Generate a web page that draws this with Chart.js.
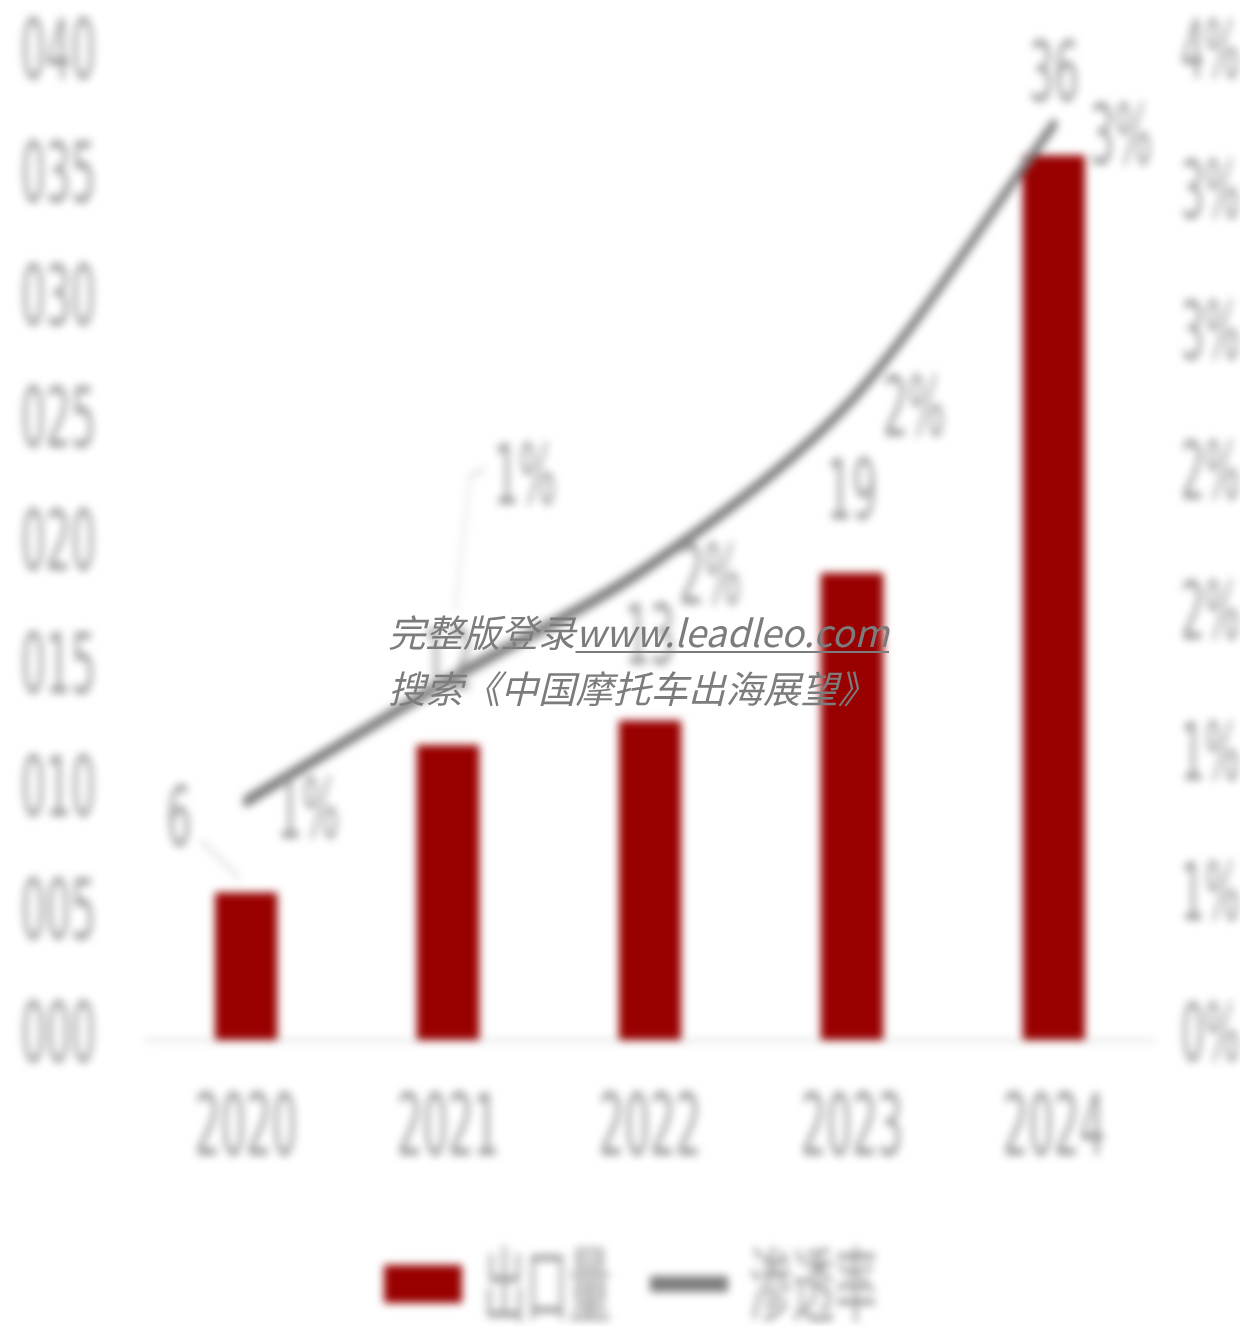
<!DOCTYPE html>
<html lang="zh-CN">
<head>
<meta charset="utf-8">
<title>出口量与渗透率</title>
<script src="https://cdn.jsdelivr.net/npm/chart.js@4.4.1/dist/chart.umd.min.js"></script>
<style>
  html, body { margin: 0; padding: 0; background: #fff; }
  body { width: 1240px; height: 1326px; overflow: hidden; position: relative; }
  #wrap { position: absolute; left: 0; top: 0; width: 1240px; height: 1326px; overflow: hidden; filter: blur(4px); }
  #chart { display: block; transform: scaleX(0.52); transform-origin: 0 0; }
  .mark {
    position: absolute; left: 388px; top: 603px;
    font-family: "Noto Sans CJK SC", sans-serif; font-style: italic;
    font-size: 37.5px; line-height: 56px; color: #7c7c7c; white-space: nowrap;
  }
  .mark u { text-decoration-thickness: 2px; text-underline-offset: 4px; }
</style>
</head>
<body>
<div id="wrap"><canvas id="chart" width="2385" height="1326" style="width:2385px;height:1326px"></canvas></div>
<div class="mark">完整版登录<u>www.leadleo.com</u><br>搜索《中国摩托车出海展望》</div>
<script>
// canvas is drawn wide and squeezed horizontally, which gives the narrow lettering
const SQUEEZE = 0.52;

const years = ['2020', '2021', '2022', '2023', '2024'];
const exportVolume = [6, 12, 13, 19, 36];
const penetration = [0.85, 1.28, 1.69, 2.28, 3.26];   // %
const leftTickLabels = ['000', '005', '010', '015', '020', '025', '030', '035', '040'];
const rightTickLabels = ['0%', '1%', '1%', '2%', '2%', '3%', '3%', '4%'];

// label placement relative to each mark, in on-screen pixels
const volLabelShift = [[-67, -68], [0, -78], [0, -78], [0, -76], [0, -76]];
const rateLabelShift = [[62, 15], [77, -198], [60, 17], [62, 15], [67, 18]];

const narrow = '"Liberation Sans Narrow", "DejaVu Sans Condensed", sans-serif';
const grey = '#9a9a9a';

const valueLabels = {
  id: 'valueLabels',
  afterDatasetsDraw(chart) {
    const ctx = chart.ctx;
    ctx.save();
    ctx.font = '84px ' + narrow;
    ctx.fillStyle = grey;
    ctx.textAlign = 'center';
    ctx.textBaseline = 'middle';
    ctx.strokeStyle = '#cfcfcf';
    ctx.lineWidth = 3;

    chart.getDatasetMeta(0).data.forEach((bar, i) => {
      const x = bar.x + volLabelShift[i][0] / SQUEEZE;
      const y = bar.y + volLabelShift[i][1];
      if (i === 0) {
        ctx.beginPath();
        ctx.moveTo(x + 22 / SQUEEZE, y + 16);
        ctx.lineTo(bar.x - 6 / SQUEEZE, bar.y - 14);
        ctx.stroke();
      }
      ctx.fillText(String(exportVolume[i]), x, y);
    });

    chart.getDatasetMeta(1).data.forEach((pt, i) => {
      const x = pt.x + rateLabelShift[i][0] / SQUEEZE;
      const y = pt.y + rateLabelShift[i][1];
      if (i === 1) {
        ctx.beginPath();
        ctx.moveTo(x - 40 / SQUEEZE, y - 14);
        ctx.lineTo(x - 55 / SQUEEZE, y - 6);
        ctx.lineTo(pt.x + 7 / SQUEEZE, pt.y - 70);
        ctx.stroke();
      }
      ctx.fillText(Math.round(penetration[i]) + '%', x, y);
    });
    ctx.restore();
  }
};

new Chart(document.getElementById('chart'), {
  data: {
    labels: years,
    datasets: [
      {
        type: 'bar',
        label: '出口量',
        data: exportVolume,
        yAxisID: 'y',
        backgroundColor: '#990000',
        borderWidth: 0,
        categoryPercentage: 1,
        barPercentage: 0.31,
        order: 1
      },
      {
        type: 'line',
        label: '渗透率',
        data: penetration,
        yAxisID: 'y1',
        borderColor: '#7d7d7d',
        backgroundColor: '#7d7d7d',
        borderWidth: 12,
        borderCapStyle: 'round',
        tension: 0.3,
        pointRadius: 0,
        pointStyle: 'line',
        order: 0
      }
    ]
  },
  options: {
    responsive: false,
    animation: false,
    devicePixelRatio: 1,
    layout: { padding: { top: 57, bottom: -9, left: 40, right: 0 } },
    scales: {
      x: {
        grid: { display: false },
        border: { display: true, color: '#dedede', width: 3 },
        ticks: {
          color: grey, padding: 42, maxRotation: 0, autoSkip: false,
          font: { family: narrow, size: 86, lineHeight: 1 }
        },
        afterFit(s) { s.height = 128; }
      },
      y: {
        position: 'left', min: 0, max: 40,
        grid: { display: false },
        border: { display: false },
        ticks: {
          stepSize: 5, padding: 0, crossAlign: 'far', color: grey,
          font: { family: narrow, size: 84 },
          callback: (v, i) => leftTickLabels[i]
        },
        afterFit(s) { s.width = 239; }
      },
      y1: {
        position: 'right', min: 0, max: 3.5,
        grid: { display: false },
        border: { display: false },
        ticks: {
          stepSize: 0.5, padding: 0, crossAlign: 'far', color: grey,
          font: { family: narrow, size: 80 },
          callback: (v, i) => rightTickLabels[i]
        },
        afterFit(s) { s.width = 164; }
      }
    },
    plugins: {
      tooltip: { enabled: false },
      legend: {
        position: 'bottom',
        labels: {
          usePointStyle: true,
          pointStyleWidth: 150,
          boxHeight: 38,
          padding: 75,
          color: grey,
          font: { family: '"Noto Sans CJK SC", sans-serif', size: 82 },
          sort: (a, b) => a.datasetIndex - b.datasetIndex,
          generateLabels(chart) {
            return Chart.defaults.plugins.legend.labels.generateLabels(chart).map(item => {
              if (item.datasetIndex === 0) {
                item.pointStyle = 'rect';
                item.lineWidth = 0;
              } else {
                item.pointStyle = 'line';
                item.lineWidth = 16;
              }
              return item;
            });
          }
        }
      }
    }
  },
  plugins: [valueLabels]
});
</script>
</body>
</html>
